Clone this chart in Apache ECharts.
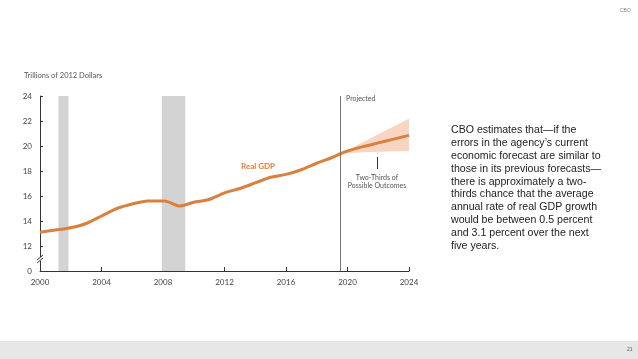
<!DOCTYPE html>
<html><head><meta charset="utf-8">
<script src="https://cdn.jsdelivr.net/npm/echarts@6/dist/echarts.min.js"></script>
<style>html,body{margin:0;padding:0;background:#fff}#c{width:638px;height:359px}</style>
</head><body><div id="c"></div>
<script>
// Data
const years = [2000,2001,2002,2003,2004,2005,2006,2007,2008.1,2009.1,2010,2011,2012,2013,2014,2015,2016,2017,2018,2019,2019.5,2020,2021,2022,2023,2024];
const gdp   = [13.1,13.28,13.46,13.8,14.4,15.0,15.36,15.6,15.6,15.2,15.5,15.72,16.25,16.6,17.05,17.5,17.73,18.1,18.62,19.08,19.36,19.6,19.95,20.25,20.55,20.85];
const bandYears = [2019.5,2020,2021,2022,2023,2024];
const bandLow   = [19.36,19.42,19.5,19.55,19.58,19.6];
const bandHigh  = [19.36,19.68,20.3,20.94,21.57,22.2];
const recessions = [[2001.2,2001.85],[2007.92,2009.45]];
const projectedStart = 2019.5;
const yTicks = [10,12,14,16,18,20,22,24];
const yTickLabels = ['0','12','14','16','18','20','22','24'];

const orange = '#D9803F';
const band = '#F7D5C1';
const grey = '#555';
const chart = echarts.init(document.getElementById('c'));

const paragraph = [
  'CBO estimates that\u2014if the',
  'errors in the agency\u2019s current',
  'economic forecast are similar to',
  'those in its previous forecasts\u2014',
  'there is approximately a two-',
  'thirds chance that the average',
  'annual rate of real GDP growth',
  'would be between 0.5 percent',
  'and 3.1 percent over the next',
  'five years.'
].join('\n');

chart.setOption({
  animation: false,
  grid: {left: 40, right: 229, top: 96, bottom: 88},
  xAxis: {
    type: 'value', min: 2000, max: 2024, interval: 4,
    axisLine: {lineStyle: {color: '#333', width: 1}},
    axisTick: {inside: true, length: 4, lineStyle: {color: '#333'}},
    axisLabel: {color: '#444', fontSize: 8, fontFamily: 'Lato', margin: 7, formatter: v => String(v)},
    splitLine: {show: false}
  },
  yAxis: {
    type: 'value', min: 10, max: 24, interval: 2,
    axisLine: {show: true, lineStyle: {color: '#333', width: 1}},
    axisTick: {show: true, inside: true, length: 3, lineStyle: {color: '#333'}},
    axisLabel: {color: '#444', fontSize: 8, fontFamily: 'Lato', margin: 8,
      formatter: v => { const i = yTicks.indexOf(v); return i >= 0 ? yTickLabels[i] : ''; }},
    splitLine: {show: false}
  },
  series: [
    {
      type: 'custom',
      data: [0],
      z: 1,
      renderItem: function (params, api) {
        const pts = [];
        for (let i = 0; i < bandYears.length; i++) pts.push(api.coord([bandYears[i], bandHigh[i]]));
        for (let i = bandYears.length - 1; i >= 0; i--) pts.push(api.coord([bandYears[i], bandLow[i]]));
        return {type: 'polygon', shape: {points: pts}, style: {fill: band}};
      },
      silent: true
    },
    {
      type: 'line',
      data: years.map((y, i) => [y, gdp[i]]),
      showSymbol: false,
      smooth: 0.25,
      z: 3,
      lineStyle: {color: orange, width: 3},
      markArea: {
        silent: true,
        itemStyle: {color: '#D3D3D3'},
        data: recessions.map(r => [{xAxis: r[0]}, {xAxis: r[1]}])
      },
      markLine: {
        silent: true, symbol: 'none', label: {show: false},
        lineStyle: {color: '#777', width: 1, type: 'solid'},
        data: [{xAxis: projectedStart}]
      }
    }
  ],
  graphic: [
    {type: 'text', left: 24, top: 72, style: {text: 'Trillions of 2012 Dollars', fill: grey, font: '7.5px Lato'}},
    {type: 'text', left: 346, top: 95, style: {text: 'Projected', fill: grey, font: '7px Lato'}},
    {type: 'text', left: 241, top: 162, style: {text: 'Real GDP', fill: orange, font: 'bold 8px Lato'}},
    {type: 'line', shape: {x1: 377.5, y1: 157, x2: 377.5, y2: 169}, style: {stroke: '#333', lineWidth: 1}},
    {type: 'text', x: 377, y: 173, style: {text: 'Two-Thirds of\nPossible Outcomes', fill: grey, font: '7px Lato', align: 'center', lineHeight: 8.5}},
    // axis break mark
    {type: 'rect', shape: {x: 36, y: 257, width: 8, height: 4}, style: {fill: '#fff'}, z: 10},
    {type: 'line', shape: {x1: 37, y1: 260, x2: 43, y2: 255}, style: {stroke: '#333', lineWidth: 1}, z: 11},
    {type: 'line', shape: {x1: 37, y1: 263, x2: 43, y2: 258}, style: {stroke: '#333', lineWidth: 1}, z: 11},
    {type: 'text', left: 451, top: 124, style: {text: paragraph, fill: '#222', font: '10.6px "Liberation Sans"', lineHeight: 12.8}},
    {type: 'text', left: 620, top: 8, style: {text: 'CBO', fill: '#888', font: '5px "Liberation Sans"'}},
    {type: 'rect', shape: {x: 0, y: 341, width: 638, height: 18}, style: {fill: '#E6E6E6'}},
    {type: 'text', left: 627, top: 347, style: {text: '21', fill: '#555', font: '5px "Liberation Sans"'}}
  ]
});
</script>
</body></html>
